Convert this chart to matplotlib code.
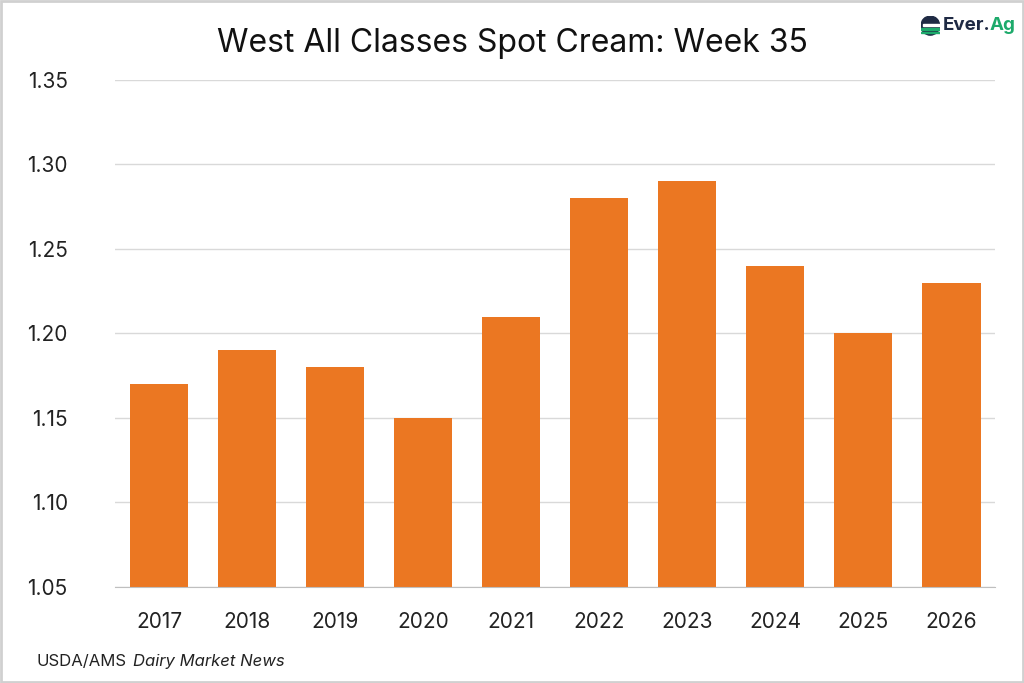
import matplotlib
matplotlib.use('Agg')
import matplotlib.pyplot as plt
from matplotlib.patches import Rectangle, Circle

years = ['2017', '2018', '2019', '2020', '2021', '2022', '2023', '2024', '2025', '2026']
prices = [1.17, 1.19, 1.18, 1.15, 1.21, 1.28, 1.29, 1.24, 1.20, 1.23]
yticks = [1.05, 1.10, 1.15, 1.20, 1.25, 1.30, 1.35]

title = 'West All Classes Spot Cream: Week 35'
bar_color = '#EB7722'
grid_color = '#D9D9D9'
navy = '#1F2A44'
green = '#1DAA6B'

plt.rcParams['font.family'] = ['Inter', 'DejaVu Sans']

fig = plt.figure(figsize=(10.24, 6.83), dpi=100)
ax = fig.add_axes([0.1123, 0.1406, 0.8594, 0.7423])

x = range(len(years))
ax.bar(x, prices, width=0.67, color=bar_color, zorder=3)

ax.set_xlim(-0.5, len(years) - 0.5)
ax.set_ylim(1.05, 1.35)
ax.set_yticks(yticks)
ax.set_yticklabels([f'{v:.2f}' for v in yticks])
ax.set_xticks(list(x))
ax.set_xticklabels(years)
ax.tick_params(axis='both', length=0, labelsize=15, colors='#222222')
ax.tick_params(axis='x', pad=18)
ax.tick_params(axis='y', pad=34)
ax.grid(axis='y', color=grid_color, linewidth=1, zorder=0)

for side in ['top', 'right', 'left']:
    ax.spines[side].set_visible(False)
ax.spines['bottom'].set_color('#BFBFBF')
ax.spines['bottom'].set_zorder(4)

fig.text(0.5, 0.937, title, ha='center', va='center', fontsize=23, color='#111111')

renderer = fig.canvas.get_renderer()

def place_after(t, gap=0.0):
    bb = t.get_window_extent(renderer=renderer)
    return bb.x1 / fig.bbox.width + gap

# source note
t1 = fig.text(0.036, 0.032, 'USDA/AMS', ha='left', va='center', fontsize=12, color='#222222')
fig.text(place_after(t1, 0.006), 0.032, 'Dairy Market News', ha='left', va='center',
         fontsize=12, style='italic', color='#222222')

# Ever.Ag logo
t2 = fig.text(0.921, 0.962, 'Ever.', ha='left', va='center', fontsize=13.5,
              fontweight='bold', color=navy)
fig.text(place_after(t2, -0.001), 0.962, 'Ag', ha='left', va='center', fontsize=13.5,
         fontweight='bold', color=green)
icon = fig.add_axes([0.899, 0.948, 0.019, 0.029])
icon.set_xlim(0, 1)
icon.set_ylim(0, 1)
icon.axis('off')
icon.add_patch(Circle((0.5, 0.5), 0.48, color=navy))
icon.add_patch(Rectangle((0.15, 0.5), 0.85, 0.1, color='white'))
icon.add_patch(Rectangle((0.0, 0.28), 1.0, 0.09, color=green))
icon.add_patch(Rectangle((0.0, 0.12), 1.0, 0.08, color=green))

# figure border
fig.patches.append(Rectangle((0.001, 0.001), 0.998, 0.997, transform=fig.transFigure,
                             fill=False, edgecolor='#D0D0D0', linewidth=2))

fig.savefig('out.png', dpi=100)
